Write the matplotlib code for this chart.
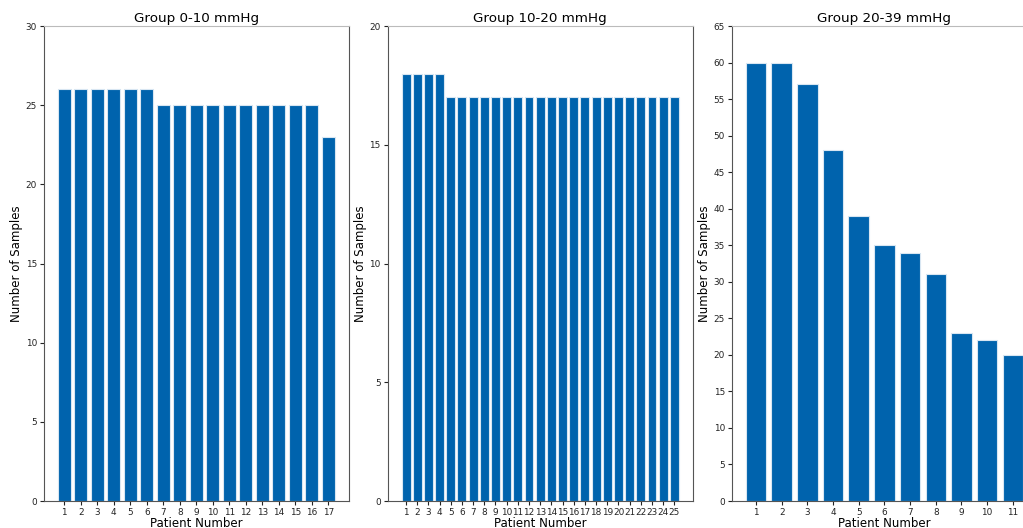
import matplotlib
matplotlib.use("Agg")
import matplotlib.pyplot as plt

# Samples per patient, grouped by pressure range
titles = ["Group 0-10 mmHg", "Group 10-20 mmHg", "Group 20-39 mmHg"]
group_0_10 = [26, 26, 26, 26, 26, 26, 25, 25, 25, 25, 25, 25, 25, 25, 25, 25, 23]
group_10_20 = [18, 18, 18, 18] + [17] * 21
group_20_39 = [60, 60, 57, 48, 39, 35, 34, 31, 23, 22, 20]
groups = [group_0_10, group_10_20, group_20_39]
y_limits = [30, 20, 65]
y_steps = [5, 5, 5]

bar_color = "#0063ad"

fig = plt.figure(figsize=(10.23, 5.28), dpi=100)
lefts = [0.0428, 0.379, 0.7155]
width, bottom, height = 0.2981, 0.0511, 0.8996

for left, title, values, ymax, step in zip(lefts, titles, groups, y_limits, y_steps):
    ax = fig.add_axes([left, bottom, width, height])
    patients = list(range(1, len(values) + 1))
    ax.bar(patients, values, width=0.8, color=bar_color, edgecolor="#d8e6f2", linewidth=0.8)
    ax.set_xticks(patients)
    ax.set_xticklabels([str(p) for p in patients])
    ax.set_ylim(0, ymax)
    ax.set_yticks(range(0, ymax + 1, step))
    ax.tick_params(axis="both", labelsize=6.4, colors="#222222", length=3, width=0.8, pad=2)
    ax.set_title(title, fontsize=9.7, pad=3)
    ax.set_xlabel("Patient Number", fontsize=8.5, labelpad=0)
    ax.set_ylabel("Number of Samples", fontsize=8.5, labelpad=2)
    for name, sp in ax.spines.items():
        sp.set_color("#bbbbbb" if name == "top" else "#555555")
        sp.set_linewidth(0.8)

fig.savefig("out.png", dpi=100)
